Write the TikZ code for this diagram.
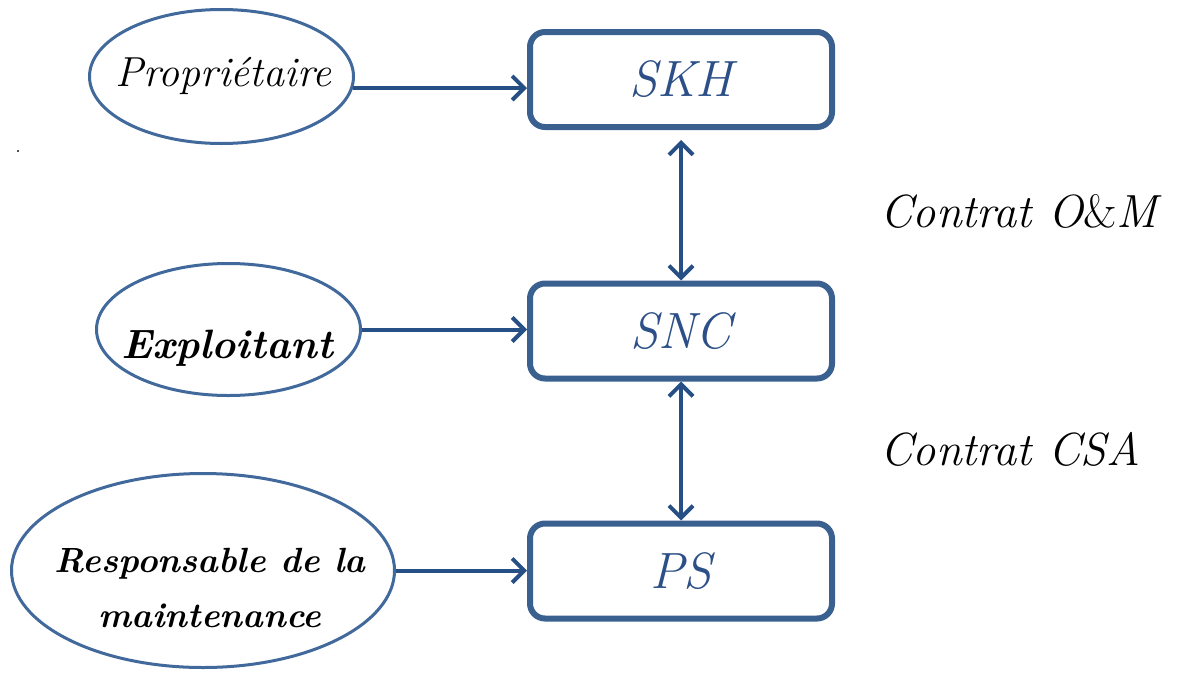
\documentclass[tikz,border=0pt]{standalone}
\usetikzlibrary{shapes.geometric,arrows.meta}

\definecolor{ellline}{HTML}{41699B}
\definecolor{boxline}{HTML}{3A6090}
\definecolor{arrline}{HTML}{264F85}
\definecolor{boxtext}{HTML}{2B4F86}

\tikzset{
  actor/.style={ellipse, draw=ellline, line width=3pt, fill=white, inner sep=0pt},
  actorname/.style={text=black, inner sep=0pt, font=\fontsize{42}{50}\selectfont\itshape},
  actorbold/.style={text=black, inner sep=0pt, align=center,
    font=\fontsize{35}{55}\selectfont\bfseries\itshape},
  entity/.style={rectangle, rounded corners=15pt, draw=boxline, line width=6pt,
    minimum width=302pt, minimum height=95pt, inner sep=0pt, text=boxtext,
    font=\fontsize{51}{60}\selectfont\itshape},
  contract/.style={text=black, inner sep=0pt, anchor=base west,
    font=\fontsize{46.5}{56}\selectfont\itshape},
  link/.style={draw=arrline, line width=4pt, -{Straight Barb[length=12pt,width=24pt]}},
  duallink/.style={draw=arrline, line width=4pt,
    {Straight Barb[length=12pt,width=24pt]}-{Straight Barb[length=12pt,width=24pt]}}
}

\begin{document}
\begin{tikzpicture}[x=1pt, y=-1pt]
  \useasboundingbox (0,0) rectangle (1182,672);

  % actors
  \node[actor, minimum width=264pt, minimum height=134pt] (owner) at (221.5,76.5) {};
  \node[actorname, anchor=base] (ownerlbl) at (223.5,86) {Propriétaire};

  \node[actor, minimum width=264pt, minimum height=132pt] (operator) at (228.5,329.5) {};
  \node[actorbold, anchor=base, font=\fontsize{41}{48}\selectfont\bfseries\itshape]
    (operatorlbl) at (227,358) {Exploitant};

  \node[actor, minimum width=383pt, minimum height=194pt] (maint) at (203,570.5) {};
  \node[actorbold] (maintlbl) at (210,588) {Responsable de la\\maintenance};

  % stray dot
  \node[inner sep=0pt, anchor=base, font=\fontsize{24}{26}\selectfont] (dot) at (18,152) {.};

  % companies
  \node[entity] (skh) at (681,79.5) {SKH};
  \node[entity] (snc) at (681,331) {SNC};
  \node[entity] (ps)  at (681,571) {PS};

  % contracts
  \node[contract] (om)  at (880,227) {Contrat O{\upshape\&}M};
  \node[contract] (csa) at (880,465) {Contrat CSA};

  % connectors
  \draw[link] (owner.-5) -- (owner.-5 -| skh.west);
  \draw[link] (operator.east) -- (operator.east -| snc.west);
  \draw[link] (maint.east) -- (maint.east -| ps.west);
  \draw[duallink, shorten <=10pt] (skh.south) -- (snc.north);
  \draw[duallink] (snc.south) -- (ps.north);
\end{tikzpicture}
\end{document}
